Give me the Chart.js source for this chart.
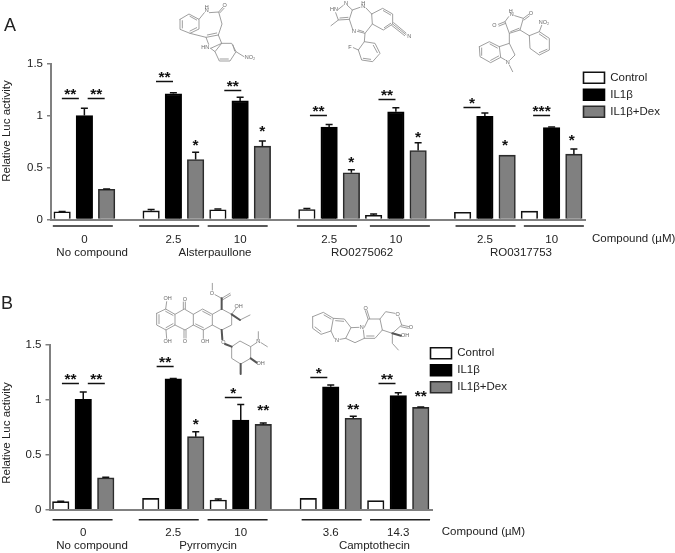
<!DOCTYPE html>
<html>
<head>
<meta charset="utf-8">
<title>Relative Luc activity</title>
<script src="https://cdn.jsdelivr.net/npm/chart.js@4/dist/chart.umd.min.js"></script>
<style>
  html, body { margin: 0; padding: 0; background: #fff; }
  canvas { position: absolute; left: 0; }
  #panelA { top: 0; }
  #panelB { top: 280px; }
</style>
</head>
<body>
<canvas id="panelA" width="675" height="280"></canvas>
<canvas id="panelB" width="675" height="273"></canvas>
<script>
const seriesNames = ['Control', 'IL1β', 'IL1β+Dex'];
const yTicks = ['0', '0.5', '1', '1.5'];

// panel A
const aDoses = ['0', '2.5', '10', '2.5', '10', '2.5', '10'];
const aControl = [0.074, 0.083, 0.093, 0.096, 0.04, 0.07, 0.08];
const aIl1b = [1.0, 1.208, 1.14, 0.888, 1.035, 0.993, 0.885];
const aDex = [0.29, 0.577, 0.705, 0.449, 0.663, 0.619, 0.628];
const aControlErr = [0.003, 0.013, 0.007, 0.01, 0.012, 0, 0];
const aIl1bErr = [0.07, 0.01, 0.036, 0.026, 0.04, 0.03, 0.005];
const aDexErr = [0.004, 0.07, 0.051, 0.03, 0.074, 0, 0.05];
const aCompounds = ['No compound', 'Alsterpaullone', 'RO0275062', 'RO0317753'];
const aSigStars = ['**', '**', '**', '**', '**', '**', '*', '***'];
const aSigValues = [1.167, 1.167, 1.333, 1.25, 1.006, 1.163, 1.08, 1.003];
const aDexStars = ['*', '*', '*', '*', '*', '*'];
const aDexStarValues = [0.72, 0.86, 0.558, 0.8, 0.724, 0.772];

// panel B
const bDoses = ['0', '2.5', '10', '3.6', '14.3'];
const bControl = [0.073, 0.103, 0.088, 0.103, 0.082];
const bIl1b = [1.005, 1.193, 0.817, 1.12, 1.04];
const bDex = [0.29, 0.665, 0.777, 0.832, 0.932];
const bControlErr = [0.003, 0, 0.01, 0, 0];
const bIl1bErr = [0.067, 0.003, 0.14, 0.015, 0.025];
const bDexErr = [0.006, 0.045, 0.012, 0.02, 0.003];
const bCompounds = ['No compound', 'Pyrromycin', 'Camptothecin'];
const bSigStars = ['**', '**', '**', '*', '*', '**'];
const bSigValues = [1.157, 1.157, 1.312, 1.03, 1.206, 1.157];
const bDexStars = ['*', '**', '**', '**'];
const bDexStarValues = [0.783, 0.914, 0.923, 1.04];

const FONT = '"Liberation Sans", Arial, sans-serif';
const TEXT_SIZE = 11.5;
const INK = '#222';
const AXIS = '#808080';
const BOND = '#949494';

// chemical structures, hand traced, [x, y] in 3x crop pixels from the given page origin
const panelAStructures = [
  { x: 170, y: 0,
    lines: [
      [[30,58],[57,42],[87,58],[87,87],[60,100],[30,88],[30,58]], [[37,62],[37,84]], [[60,49],[80,60]], [[60,93],[80,83]],
      [[87,58],[103,38]], [[118,38],[146,36],[156,72],[145,105],[108,112],[60,100]], [[146,36],[158,22]], [[150,38],[162,25]],
      [[112,105],[140,99]], [[108,112],[116,133]], [[122,145],[155,130],[145,105]],
      [[155,130],[185,130],[198,155],[180,183],[148,183],[135,155],[155,130]], [[122,145],[135,155]], [[150,177],[175,177]], [[189,135],[194,153]],
      [[198,155],[222,170]]
    ],
    labels: [['H', 110, 22], ['N', 110, 32], ['O', 164, 17], ['HN', 106, 142], ['NO₂', 240, 173]] },
  { x: 320, y: 0,
    lines: [
      [[33,77],[55,60],[47,38]], [[55,28],[70,16]], [[82,16],[97,30],[88,58],[55,60]], [[60,54],[84,52]],
      [[97,30],[120,22]], [[138,24],[155,42]], [[155,42],[188,25],[218,42],[218,72],[190,90],[157,72],[155,42]], [[190,32],[212,45]], [[193,83],[212,70]],
      [[157,72],[135,100],[112,94]], [[98,88],[88,58]], [[131,95],[115,90]],
      [[218,72],[258,104]], [[221,68],[258,99]], [[215,76],[254,107]],
      [[135,100],[133,125],[115,150],[125,180],[158,185],[180,160],[165,130],[133,125]], [[130,175],[152,178]], [[172,158],[160,136]], [[115,150],[100,143]]
    ],
    labels: [['N', 78, 9], ['HN', 42, 27], ['H', 130, 9], ['N', 130, 19], ['N', 102, 93], ['N', 268, 110], ['F', 90, 143]] },
  { x: 470, y: 0,
    lines: [
      [[116,50],[105,65],[118,100],[150,90],[160,55],[134,47]], [[122,95],[147,85]], [[105,65],[85,73]], [[107,70],[87,78]], [[160,55],[176,43]], [[162,60],[178,48]],
      [[28,140],[58,125],[88,140],[92,172],[62,188],[30,170],[28,140]], [[35,144],[35,166]], [[60,132],[82,144]], [[62,181],[86,168]],
      [[88,140],[118,130],[135,165],[120,180]], [[106,180],[92,172]], [[118,195],[128,215]], [[118,130],[118,100]],
      [[150,90],[178,107]], [[178,107],[208,95],[238,115],[238,150],[208,165],[180,145],[178,107]], [[208,102],[231,118]], [[231,148],[208,158]], [[208,95],[215,76]]
    ],
    labels: [['H', 122, 33], ['N', 125, 43], ['O', 73, 75], ['O', 183, 40], ['N', 113, 186], ['NO₂', 222, 67]] }
];
const panelBStructures = [
  { x: 150, y: 280,
    lines: [
      [[20,100],[47,87],[75,103],[75,135],[48,150],[20,135],[20,100]], [[27,104],[27,131]], [[47,94],[69,106]], [[48,143],[69,131]],
      [[75,103],[103,87],[130,103],[130,135],[105,150],[75,135]],
      [[130,103],[158,87],[187,103],[187,135],[160,150],[130,135]], [[158,94],[181,106]], [[137,132],[160,143]],
      [[187,103],[215,87],[245,103],[245,135],[215,150],[187,135]],
      [[47,87],[50,65]], [[48,150],[50,175]], [[100,87],[100,66]], [[106,87],[106,66]], [[102,150],[102,174]], [[108,150],[108,174]], [[160,150],[160,175]],
      [[215,55],[195,44]], [[187,30],[187,10]], [[215,55],[240,40]], [[217,60],[242,45]],
      [[245,103],[258,85]], [[270,120],[300,105]],
      [[245,200],[270,183],[302,200],[302,235],[272,252],[245,235],[245,200]],
      [[302,200],[320,188]], [[325,178],[325,155]], [[333,188],[352,200]]
    ],
    bold: [[[215,87],[215,55]], [[245,103],[270,120]], [[215,150],[217,178]], [[225,192],[245,200]], [[302,235],[320,248]], [[272,252],[272,282]]],
    labels: [['OH', 53, 56], ['OH', 53, 185], ['O', 105, 57], ['O', 105, 185], ['OH', 165, 185], ['O', 186, 40], ['OH', 266, 78], ['O', 220, 188], ['N', 325, 185], ['OH', 332, 250]] },
  { x: 305, y: 295,
    lines: [
      [[23,65],[55,52],[85,70],[78,108],[48,118],[23,100],[23,65]], [[57,60],[78,72]], [[30,96],[48,110]],
      [[85,70],[118,72],[138,98],[122,130],[105,133]], [[88,130],[78,108]], [[92,77],[116,79]],
      [[138,98],[162,97]], [[175,105],[178,130],[150,143],[122,130]], [[178,97],[190,72],[225,72],[232,105],[210,130],[178,130]], [[185,123],[207,123]],
      [[189,72],[181,47]], [[194,71],[186,46]],
      [[225,72],[242,50],[270,55]], [[282,66],[290,90],[262,115],[232,105]], [[290,90],[312,95]], [[288,95],[310,100]],
      [[262,115],[262,145],[280,165]]
    ],
    bold: [[[262,115],[288,122]]],
    labels: [['O', 182, 40], ['N', 170, 97], ['N', 96, 135], ['O', 278, 58], ['O', 318, 97], ['OH', 300, 120]] }
];

function slotValues(values, groupStarts, offset, slotCount) {
  const out = new Array(slotCount).fill(null);
  values.forEach((v, i) => { out[groupStarts[i] + offset] = v; });
  return out;
}

function slotLabels(doses, groupStarts, slotCount) {
  const out = new Array(slotCount).fill('');
  doses.forEach((d, i) => { out[groupStarts[i] + 1] = d; });
  return out;
}

function drawStructures(ctx, list, canvasTop) {
  ctx.save();
  ctx.lineCap = 'round';
  ctx.lineJoin = 'round';
  const path = (pts, s) => {
    ctx.beginPath();
    pts.forEach((p, i) => {
      const px = s.x + p[0] / 3;
      const py = s.y - canvasTop + p[1] / 3;
      if (i === 0) ctx.moveTo(px, py); else ctx.lineTo(px, py);
    });
    ctx.stroke();
  };
  list.forEach(s => {
    ctx.strokeStyle = BOND;
    ctx.lineWidth = 0.9;
    s.lines.forEach(pts => path(pts, s));
    ctx.strokeStyle = '#555';
    ctx.lineWidth = 2;
    (s.bold || []).forEach(pts => path(pts, s));
    ctx.fillStyle = '#666';
    ctx.font = '5.5px ' + FONT;
    ctx.textAlign = 'center';
    ctx.textBaseline = 'middle';
    s.labels.forEach(l => ctx.fillText(l[0], s.x + l[1] / 3, s.y - canvasTop + l[2] / 3));
  });
  ctx.restore();
}

function makePanel(id, p) {
  const datasets = p.series.map((values, i) => ({
    label: seriesNames[i],
    data: slotValues(values, p.groupStarts, i, p.slotCount),
    backgroundColor: ['#ffffff', '#000000', '#808080'][i],
    borderColor: ['#111', '#000', '#2b2b2b'][i],
    borderWidth: 1.6,
    barThickness: 16.5
  }));

  const annotate = {
    id: 'annotate',
    afterLayout(chart) {
      chart.legend.left = chart.chartArea.right + p.legendDx;
      chart.legend.top += p.legendDy;
    },
    afterDatasetsDraw(chart) {
      const { ctx, scales } = chart;
      const y = scales.y;
      const x = scales.x;
      const slotX = s => x.getPixelForValue(0) + s * (x.getPixelForValue(1) - x.getPixelForValue(0));
      const axisY = y.getPixelForValue(0);

      // error bars, upper whisker only
      ctx.save();
      ctx.strokeStyle = '#111';
      ctx.lineWidth = 1.5;
      p.errors.forEach((errs, s) => {
        errs.forEach((e, g) => {
          if (!e) return;
          const slot = p.groupStarts[g] + s;
          const cx = slotX(slot);
          const top = y.getPixelForValue(p.series[s][g] + e);
          ctx.beginPath();
          ctx.moveTo(cx, y.getPixelForValue(p.series[s][g]));
          ctx.lineTo(cx, top);
          ctx.moveTo(cx - 3.5, top);
          ctx.lineTo(cx + 3.5, top);
          ctx.stroke();
        });
      });

      ctx.fillStyle = INK;
      ctx.textAlign = 'center';

      // significance bars and stars
      const stars = (txt, sx, py) => {
        ctx.font = 'bold 15.5px ' + FONT;
        ctx.textBaseline = 'alphabetic';
        ctx.fillStyle = '#111';
        ctx.fillText(txt, sx, py + 5.5);
      };
      ctx.strokeStyle = '#111';
      p.sigStars.forEach((txt, i) => {
        const cx = slotX(p.sigSlots[i]);
        const py = Math.round(y.getPixelForValue(p.sigValues[i])) + 0.5;
        ctx.lineWidth = 1.5;
        ctx.beginPath();
        ctx.moveTo(cx - 8.5, py);
        ctx.lineTo(cx + 8.5, py);
        ctx.stroke();
        stars(txt, cx, py - 5);
      });
      p.dexStars.forEach((txt, i) => {
        stars(txt, slotX(p.dexStarSlots[i]), y.getPixelForValue(p.dexStarValues[i]));
      });

      // group lines under the axis
      ctx.strokeStyle = '#222';
      ctx.lineWidth = 1.5;
      p.lineSlots.forEach(s => {
        const cx = slotX(s);
        ctx.beginPath();
        ctx.moveTo(cx - 30, axisY + p.lineDy);
        ctx.lineTo(cx + 30, axisY + p.lineDy);
        ctx.stroke();
      });

      // compound names and dose caption
      ctx.fillStyle = INK;
      ctx.font = TEXT_SIZE + 'px ' + FONT;
      ctx.textBaseline = 'middle';
      p.compounds.forEach((name, i) => {
        ctx.fillText(name, slotX(p.nameSlots[i]), axisY + p.nameDy);
      });

      // y axis title sits off-centre in the reference
      ctx.save();
      ctx.translate(6.5, p.titleY);
      ctx.rotate(-Math.PI / 2);
      ctx.fillText('Relative Luc activity', 0, 0);
      ctx.restore();

      ctx.textAlign = 'left';
      ctx.fillText('Compound (µM)', p.captionX, axisY + p.tickDy);

      // panel letter
      ctx.font = '18px ' + FONT;
      ctx.fillText(p.letter, p.letterX, p.letterY);
      ctx.restore();

      drawStructures(ctx, p.structures, p.canvasTop);
    }
  };

  return new Chart(document.getElementById(id), {
    type: 'bar',
    data: { labels: slotLabels(p.doses, p.groupStarts, p.slotCount), datasets },
    plugins: [annotate],
    options: {
      responsive: false,
      animation: false,
      layout: { padding: { top: p.top, right: p.right, left: 0, bottom: 0 } },
      plugins: {
        tooltip: { enabled: false },
        title: { display: false },
        legend: {
          position: 'right',
          align: 'start',
          maxWidth: 90,
          labels: { boxWidth: 21, boxHeight: 11, padding: 5.5, color: INK, font: { family: FONT, size: TEXT_SIZE } }
        }
      },
      scales: {
        x: {
          stacked: true,
          afterFit: s => { s.height = p.bottomH; },
          grid: { display: false, tickLength: 0 },
          border: { color: AXIS, width: 2 },
          ticks: {
            autoSkip: false, maxRotation: 0, minRotation: 0,
            padding: p.tickDy - 6,
            color: INK,
            font: { family: FONT, size: TEXT_SIZE }
          }
        },
        y: {
          stacked: true,
          min: 0, max: 1.5,
          afterFit: s => { s.width = p.leftW; },
          grid: { drawOnChartArea: false, drawTicks: true, tickLength: 4, color: AXIS, lineWidth: 1.5 },
          border: { color: AXIS, width: 2 },
          ticks: {
            stepSize: 0.5, padding: 4, color: INK,
            font: { family: FONT, size: TEXT_SIZE },
            callback: (v, i) => yTicks[i]
          }
        }
      }
    }
  });
}

makePanel('panelA', {
  letter: 'A', letterX: 4, letterY: 26, canvasTop: 0, structures: panelAStructures,
  top: 63.5, right: 0, leftW: 51, bottomH: 60.5, titleY: 131,
  slotCount: 24, groupStarts: [0, 4, 7, 11, 14, 18, 21],
  doses: aDoses, series: [aControl, aIl1b, aDex], errors: [aControlErr, aIl1bErr, aDexErr],
  compounds: aCompounds, nameSlots: [1.35, 6.87, 13.48, 20.62],
  sigStars: aSigStars, sigValues: aSigValues, sigSlots: [0.37, 1.53, 4.6, 7.67, 11.52, 14.6, 18.42, 21.55],
  dexStars: aDexStars, dexStarValues: aDexStarValues, dexStarSlots: [6, 9, 13, 16, 19.9, 22.9],
  lineSlots: [0.93, 4.81, 7.89, 11.9, 15.18, 19.03, 22.1],
  lineDy: 6.5, tickDy: 19, nameDy: 33, captionX: 592,
  legendDx: -7, legendDy: 3
});

makePanel('panelB', {
  letter: 'B', letterX: 1, letterY: 24, canvasTop: 280, structures: panelBStructures,
  top: 65, right: 153, leftW: 49.5, bottomH: 43.3, titleY: 153,
  slotCount: 17, groupStarts: [0, 4, 7, 11, 14],
  doses: bDoses, series: [bControl, bIl1b, bDex], errors: [bControlErr, bIl1bErr, bDexErr],
  compounds: bCompounds, nameSlots: [1.39, 6.55, 13.94],
  sigStars: bSigStars, sigValues: bSigValues, sigSlots: [0.43, 1.58, 4.64, 7.67, 11.47, 14.5],
  dexStars: bDexStars, dexStarValues: bDexStarValues, dexStarSlots: [6, 9, 13, 16],
  lineSlots: [0.97, 4.8, 7.86, 12.04, 15.08],
  lineDy: 10, tickDy: 22.6, nameDy: 36, captionX: 441.7,
  legendDx: -7, legendDy: -3
});
</script>
</body>
</html>
